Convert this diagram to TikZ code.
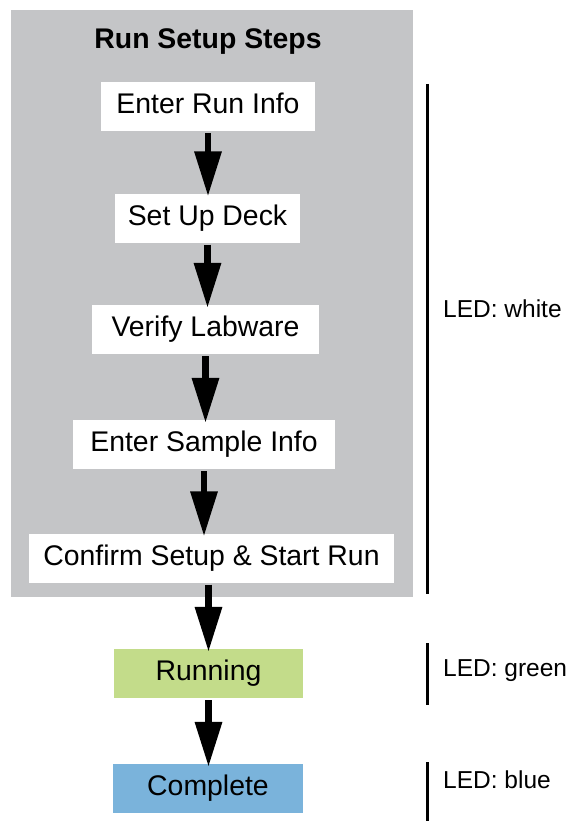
\documentclass[tikz,border=0pt]{standalone}
\usepackage{fontspec}
\setmainfont{Liberation Sans}
\usepackage{tikz}
\usetikzlibrary{arrows.meta}
\definecolor{panelgray}{RGB}{196,197,199}
\definecolor{rungreen}{RGB}{195,220,138}
\definecolor{doneblue}{RGB}{122,179,219}
\newcommand{\boxfont}{\fontsize{28.4}{34}\selectfont}
\newcommand{\ledfont}{\fontsize{24.5}{29}\selectfont}

\begin{document}
\begin{tikzpicture}[x=1pt, y=-1pt,
  stepbox/.style={fill=white, font=\boxfont, minimum height=49pt,
    inner sep=0pt, text height=21pt, text depth=7pt},
  flow/.style={line width=6.5pt, -{Triangle[length=45pt, width=26pt]},
    shorten <=2pt, shorten >=-3pt},
  ledbar/.style={line width=2.7pt}]
\useasboundingbox (0,0) rectangle (567,821);
% panel round the setup steps
\fill[panelgray] (11,10) rectangle (412.5,597);
\path (208,49) node[anchor=base, font=\boxfont\bfseries] (title) {Run Setup Steps};

\path (208,106.5) node[stepbox, minimum width=214pt] (info) {Enter Run Info};
\path (207.5,218) node[stepbox, minimum width=185pt] (deck) {Set Up Deck};
\path (205.5,329.5) node[stepbox, minimum width=227pt] (labware) {Verify Labware};
\path (204,444.5) node[stepbox, minimum width=262pt] (sample) {Enter Sample Info};
\path (211.5,558) node[stepbox, minimum width=365pt] (confirm) {Confirm Setup \& Start Run};
\path (208.5,673.5) node[stepbox, fill=rungreen, minimum width=189pt] (running) {Running};
\path (208,788.5) node[stepbox, fill=doneblue, minimum width=190pt] (complete) {Complete};

\draw[flow] (info.south) -- (info.south |- deck.north);
\draw[flow] (deck.south) -- (deck.south |- labware.north);
\draw[flow] (labware.south) -- (labware.south |- sample.north);
\draw[flow] (sample.south) -- (sample.south |- confirm.north);
\draw[flow] (confirm.south -| running.north) -- (running.north);
\draw[flow] (running.south) -- (running.south |- complete.north);

% LED states
\draw[ledbar] (427.5,84) -- (427.5,594);
\draw[ledbar] (427.5,643) -- (427.5,705);
\draw[ledbar] (427.5,762) -- (427.5,821);
\path (443,317) node[anchor=base west, inner sep=0pt, font=\ledfont] (ledwhite) {LED: white};
\path (443,676) node[anchor=base west, inner sep=0pt, font=\ledfont] (ledgreen) {LED: green};
\path (443,788) node[anchor=base west, inner sep=0pt, font=\ledfont] (ledblue) {LED: blue};
\end{tikzpicture}
\end{document}
